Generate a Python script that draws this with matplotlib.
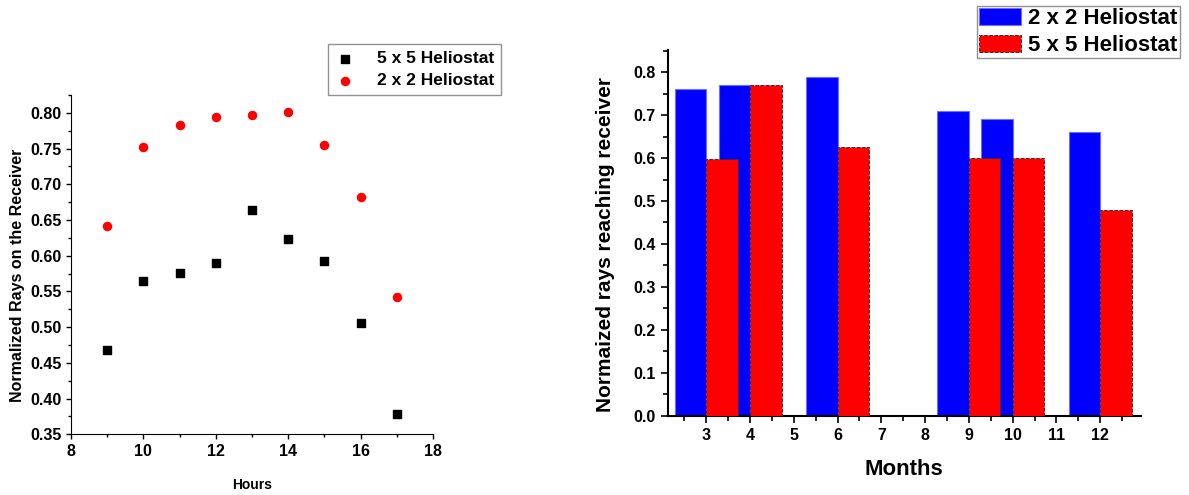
import matplotlib.pyplot as plt
import numpy as np
from matplotlib.ticker import MultipleLocator

plt.rcParams['font.family'] = ['Liberation Sans', 'DejaVu Sans']
plt.rcParams['font.weight'] = 'bold'

# left panel: rays vs hour
hours = [9, 10, 11, 12, 13, 14, 15, 16, 17]
rays_5x5 = [0.468, 0.565, 0.576, 0.590, 0.664, 0.623, 0.593, 0.506, 0.379]
rays_2x2 = [0.641, 0.752, 0.783, 0.794, 0.797, 0.801, 0.755, 0.682, 0.542]

# right panel: monthly values
months = [3, 4, 6, 9, 10, 12]
month_2x2 = [0.76, 0.77, 0.79, 0.71, 0.69, 0.66]
month_5x5 = [0.597, 0.77, 0.626, 0.60, 0.60, 0.48]
month_ticks = [3, 4, 5, 6, 7, 8, 9, 10, 11, 12]

fig = plt.figure(figsize=(11.89, 4.95), dpi=100)

ax1 = fig.add_axes([0.0597, 0.1226, 0.3045, 0.6854])
ax1.scatter(hours, rays_5x5, marker='s', s=28, color='black', label='5 x 5 Heliostat', zorder=3)
ax1.scatter(hours, rays_2x2, marker='o', s=34, color='red', label='2 x 2 Heliostat', zorder=3)
ax1.set_xlim(8, 18)
ax1.set_ylim(0.35, 0.825)
ax1.xaxis.set_major_locator(MultipleLocator(2))
ax1.xaxis.set_minor_locator(MultipleLocator(1))
ax1.yaxis.set_major_locator(MultipleLocator(0.05))
ax1.yaxis.set_minor_locator(MultipleLocator(0.025))
ax1.yaxis.set_major_formatter(plt.FormatStrFormatter('%.2f'))
for s in ['top', 'right']:
    ax1.spines[s].set_visible(False)
ax1.tick_params(which='major', length=3.5, width=1, labelsize=11.5)
ax1.tick_params(which='minor', length=2, width=1)
ax1.set_xlabel('Hours', fontsize=10, fontweight='bold', labelpad=14)
ax1.set_ylabel('Normalized Rays on the Receiver', fontsize=11.5, fontweight='bold')
ax1.yaxis.set_label_coords(-0.128, 0.469)
leg1 = ax1.legend(loc='upper left', bbox_to_anchor=(0.71, 1.15), fontsize=12.5,
                  frameon=True, fancybox=False, edgecolor='#777777',
                  handlelength=1.2, handletextpad=1.2, borderpad=0.4,
                  labelspacing=0.4, borderaxespad=0)
leg1.get_frame().set_linewidth(1)

ax2 = fig.add_axes([0.5616, 0.1602, 0.398, 0.739])
bw = 0.72
ax2.bar(months, month_2x2, width=-bw, align='edge', color='blue',
        edgecolor='#6f6fff', linewidth=0.8, label='2 x 2 Heliostat', zorder=2)
ax2.bar(months, month_5x5, width=bw, align='edge', color='red',
        edgecolor='#333333', linestyle='--', linewidth=0.7, label='5 x 5 Heliostat', zorder=3)
ax2.set_xlim(2.12, 12.93)
ax2.set_ylim(0, 0.852)
ax2.set_xticks(month_ticks)
ax2.xaxis.set_minor_locator(MultipleLocator(0.5))
ax2.yaxis.set_major_locator(MultipleLocator(0.1))
ax2.yaxis.set_minor_locator(MultipleLocator(0.05))
ax2.yaxis.set_major_formatter(plt.FormatStrFormatter('%.1f'))
for s in ['top', 'right']:
    ax2.spines[s].set_visible(False)
ax2.spines['left'].set_linewidth(1.5)
ax2.spines['bottom'].set_linewidth(1.5)
ax2.tick_params(which='major', length=5, width=1.2, labelsize=11.5)
ax2.tick_params(which='minor', length=3.5, width=1.2)
ax2.set_xlabel('Months', fontsize=16, fontweight='bold', labelpad=12)
ax2.set_ylabel('Normaized rays reaching receiver', fontsize=15, fontweight='bold')
ax2.yaxis.set_label_coords(-0.112, 0.467)
h2, l2 = ax2.get_legend_handles_labels()
leg2 = fig.legend(h2, l2, loc='upper left', bbox_to_anchor=(977 / 1189, 1 - 6 / 495),
                  fontsize=16, frameon=True, fancybox=False, edgecolor='#777777',
                  handlelength=1.9, handleheight=0.8, handletextpad=0.3,
                  borderpad=0.1, labelspacing=0.25, borderaxespad=0)
leg2.get_frame().set_linewidth(1)

fig.savefig('out.png', dpi=100)
